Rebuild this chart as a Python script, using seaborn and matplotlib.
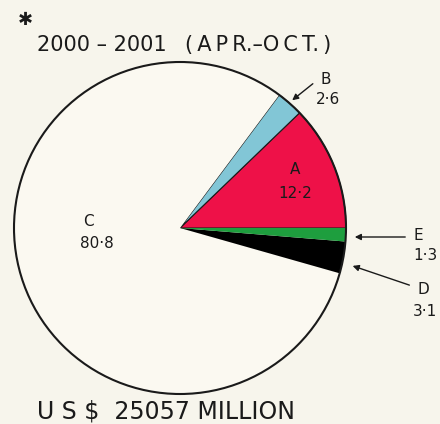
import matplotlib
matplotlib.use('Agg')
import matplotlib.pyplot as plt
import seaborn as sns

# shares of total (percent), counterclockwise from 3 o'clock
labels = ['A', 'B', 'C', 'D', 'E']
shares = [12.2, 2.6, 80.8, 3.1, 1.3]
share_text = ['12·2', '2·6', '80·8', '3·1', '1·3']
colors = ['#ee1148', '#82c6d6', '#fbf9f1', '#000000', '#1e9e3e']

title_years = '2000 – 2001'
title_months = '(\u2009A\u2009P\u2009R.–O\u2009C\u2009T.\u2009)'
footer = 'U S $  25057 MILLION'

sns.set_style('white')
plt.rcParams['font.family'] = ['DejaVu Sans']

bg = '#f7f5ec'
fig = plt.figure(figsize=(4.4, 4.24), dpi=100, facecolor=bg)
ax = fig.add_axes([0, 0, 1, 1])
ax.set_facecolor(bg)

H = 424
cx, cy, r = 180, H - 228, 166
wedges, _ = ax.pie(shares, colors=colors, startangle=0, counterclock=True,
                   center=(cx, cy), radius=r, frame=True,
                   wedgeprops=dict(edgecolor='none'))
ax.set_xlim(0, 440)
ax.set_ylim(0, 424)
ax.set_aspect('equal')
ax.axis('off')
# outline of the whole circle
circ = plt.Circle((cx, cy), r, fill=False, lw=1.5, color='#1a1a1a')
ax.add_patch(circ)
# thin outline on coloured slices
for w, lab in zip(wedges, labels):
    if lab in ('A', 'B'):
        w.set_edgecolor('#1a1a1a')
        w.set_linewidth(0.8)

ink = '#1a1a1a'
txt = dict(color=ink, ha='center', va='center')
ax.text(25, H - 20, '✱', fontsize=13, fontweight='bold', **txt)
ax.text(37, H - 45, title_years, fontsize=15, color=ink, ha='left', va='center')
ax.text(185, H - 45, title_months, fontsize=15, color=ink, ha='left', va='center')
ax.text(37, H - 412, footer, fontsize=17, color=ink, ha='left', va='center')

# inside labels
ax.text(295, H - 170, 'A', fontsize=11, **txt)
ax.text(295, H - 193, share_text[0], fontsize=11, **txt)
ax.text(88, H - 222, 'C', fontsize=11, **txt)
ax.text(97, H - 243, share_text[2], fontsize=11, **txt)

# outside labels with arrows
arrow = dict(arrowstyle='-|>', color=ink, lw=1.0, mutation_scale=9)
ax.annotate('', xy=(290, H - 102), xytext=(315, H - 82), arrowprops=arrow)
ax.text(326, H - 80, 'B', fontsize=11, **txt)
ax.text(328, H - 99, share_text[1], fontsize=11, **txt)

ax.annotate('', xy=(352, H - 237), xytext=(408, H - 237), arrowprops=arrow)
ax.text(418, H - 236, 'E', fontsize=11, **txt)
ax.text(425, H - 256, share_text[4], fontsize=11, **txt)

ax.annotate('', xy=(350, H - 265), xytext=(412, H - 286), arrowprops=arrow)
ax.text(423, H - 290, 'D', fontsize=11, **txt)
ax.text(425, H - 312, share_text[3], fontsize=11, **txt)

fig.savefig('out.png', dpi=100, facecolor=bg)
